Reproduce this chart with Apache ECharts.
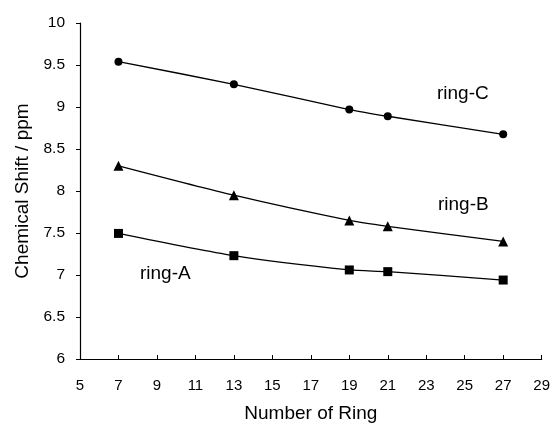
<!DOCTYPE html>
<html><head><meta charset="utf-8">
<script src="https://cdn.jsdelivr.net/npm/echarts@6/dist/echarts.min.js"></script>
<style>html,body{margin:0;padding:0;background:#fff}#c{width:553px;height:428px}</style>
</head><body><div id="c"></div>
<script>
const rings = [7, 13, 19, 21, 27];
const ringC = [9.54, 9.27, 8.97, 8.89, 8.675];
const ringB = [8.30, 7.95, 7.65, 7.58, 7.40];
const ringA = [7.495, 7.23, 7.06, 7.04, 6.94];
const seriesNames = ['ring-C', 'ring-B', 'ring-A'];
const xTitle = 'Number of Ring';
const yTitle = 'Chemical Shift / ppm';

const font = 'Liberation Sans, Arial, sans-serif';
const chart = echarts.init(document.getElementById('c'));
function mk(name, vals, sym, size) {
  return {
    name, type: 'line', smooth: 0.25,
    data: rings.map((x, i) => [x, vals[i]]),
    symbol: sym, symbolSize: size,
    lineStyle: {color: '#000', width: 1.3},
    itemStyle: {color: '#000'},
    animation: false
  };
}
chart.setOption({
  backgroundColor: '#fff',
  grid: {left: 80, right: 10, top: 23, bottom: 67},
  xAxis: {
    type: 'value', min: 5, max: 29, interval: 2,
    name: xTitle, nameLocation: 'middle', nameGap: 45,
    nameTextStyle: {color: '#000', fontSize: 19, fontFamily: font},
    axisLine: {lineStyle: {color: '#000', width: 1.2}},
    axisTick: {inside: true, length: 4, lineStyle: {color: '#000'}},
    axisLabel: {color: '#000', fontSize: 15, fontFamily: font, margin: 19},
    splitLine: {show: false}
  },
  yAxis: {
    type: 'value', min: 6, max: 10, interval: 0.5,
    name: yTitle, nameLocation: 'middle', nameGap: 48,
    nameTextStyle: {color: '#000', fontSize: 19, fontFamily: font},
    axisLine: {show: true, lineStyle: {color: '#000', width: 1.2}},
    axisTick: {show: true, length: 4, lineStyle: {color: '#000'}},
    axisLabel: {color: '#000', fontSize: 15.5, fontFamily: font, margin: 15},
    splitLine: {show: false}
  },
  series: [
    mk(seriesNames[0], ringC, 'circle', 8),
    mk(seriesNames[1], ringB, 'triangle', 10),
    mk(seriesNames[2], ringA, 'rect', 9)
  ],
  graphic: [
    {type: 'text', left: 437, top: 84, style: {text: seriesNames[0], fill: '#000', font: '19px ' + font}},
    {type: 'text', left: 438, top: 195, style: {text: seriesNames[1], fill: '#000', font: '19px ' + font}},
    {type: 'text', left: 140, top: 264, style: {text: seriesNames[2], fill: '#000', font: '19px ' + font}}
  ],
  animation: false
});
</script></body></html>
